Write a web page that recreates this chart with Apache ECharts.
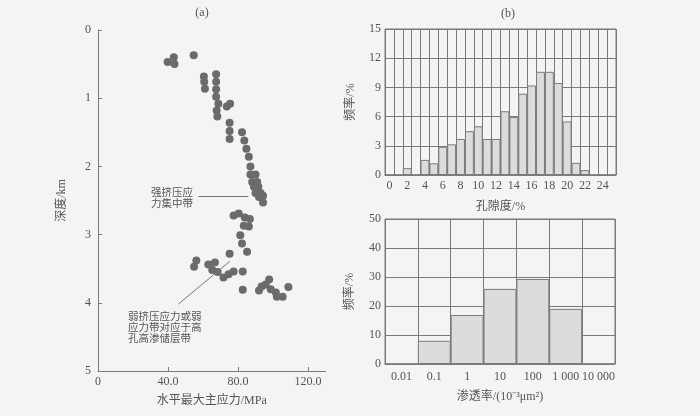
<!DOCTYPE html>
<html>
<head>
<meta charset="utf-8">
<title>地应力与孔渗分布</title>
<script src="https://cdn.jsdelivr.net/npm/echarts@6/dist/echarts.min.js"></script>
<style>
  html, body { margin: 0; padding: 0; background: #f4f4f4; }
  #main { width: 700px; height: 416px; }
</style>
</head>
<body>
<div id="main"></div>
<script>
// (a) 水平最大主应力(MPa) - 深度(km)
let stressDepth = [
  [39.8, 0.47], [43.3, 0.40], [43.7, 0.50], [54.7, 0.37],
  [60.5, 0.68], [60.7, 0.76], [61.1, 0.86],
  [67.5, 0.65], [67.5, 0.76], [67.5, 0.87], [67.5, 0.98], [68.8, 1.08], [67.8, 1.18], [68.2, 1.27],
  [73.6, 1.12], [75.5, 1.08],
  [75.2, 1.36], [75.2, 1.48], [75.2, 1.60],
  [82.3, 1.50], [83.6, 1.62], [84.8, 1.74], [86.2, 1.86], [87.1, 2.00], [87.1, 2.12], [90.0, 2.12],
  [88.1, 2.23], [91.0, 2.23], [89.1, 2.30], [91.6, 2.30], [90.0, 2.39], [92.9, 2.39], [92.0, 2.45],
  [94.3, 2.43], [94.3, 2.53],
  [77.5, 2.72], [80.4, 2.69], [83.9, 2.75], [86.8, 2.77], [83.3, 2.87], [86.2, 2.88], [81.3, 3.01],
  [82.3, 3.13], [85.2, 3.25], [75.2, 3.28],
  [56.2, 3.38], [54.9, 3.47], [63.0, 3.44], [66.8, 3.41], [65.3, 3.52], [68.4, 3.55], [71.7, 3.63],
  [74.6, 3.58], [77.5, 3.54], [82.7, 3.54], [82.7, 3.81],
  [92.0, 3.82], [93.5, 3.76], [95.8, 3.73], [97.8, 3.66], [98.7, 3.80], [101.6, 3.85], [102.2, 3.91],
  [105.5, 3.91], [108.8, 3.77]
];
let depthTicks = [0, 1, 2, 3, 4, 5];

// (b) 孔隙度分布
let porosityCats = ['0', '1', '2', '3', '4', '5', '6', '7', '8', '9', '10', '11', '12',
  '13', '14', '15', '16', '17', '18', '19', '20', '21', '22', '23', '24', '25'];
let porosityFreq = [0, 0, 0.7, 0, 1.55, 1.2, 2.9, 3.15, 3.7, 4.5, 5.0, 3.7, 3.7,
  6.55, 5.95, 8.35, 9.2, 10.6, 10.6, 9.45, 5.5, 1.25, 0.5, 0, 0, 0];

// 渗透率分布
let permCats = ['0.01', '0.1', '1', '10', '100', '1 000', '10 000'];
let permFreq = [0, 8.0, 16.9, 25.9, 29.3, 19.0, 0];

let myChart = echarts.init(document.getElementById('main'));

let font = '"Liberation Serif", "Noto Sans CJK SC", serif';
let txt = '#555';
let lineCol = '#7a7a7a';

let option = {
  backgroundColor: '#f4f4f4',
  textStyle: { fontFamily: font, color: txt },
  title: [
    { text: '(a)', left: 197, top: 2, textAlign: 'center',
      textStyle: { fontSize: 12, fontWeight: 'normal', color: txt, fontFamily: font } },
    { text: '(b)', left: 503, top: 3, textAlign: 'center',
      textStyle: { fontSize: 12, fontWeight: 'normal', color: txt, fontFamily: font } }
  ],
  grid: [
    { left: 98, top: 30, width: 227.5, height: 341 },
    { left: 385, top: 29, width: 231, height: 146, show: true, borderColor: lineCol, borderWidth: 1 },
    { left: 385, top: 219, width: 230, height: 145, show: true, borderColor: lineCol, borderWidth: 1 }
  ],
  xAxis: [
    {
      gridIndex: 0, type: 'value', position: 'bottom', min: 0, max: 130, interval: 40,
      name: '水平最大主应力/MPa', nameLocation: 'middle', nameGap: 24,
      nameTextStyle: { fontSize: 12, color: txt, fontFamily: font },
      axisLine: { onZero: false, lineStyle: { color: lineCol } },
      axisTick: { inside: true, length: 4, lineStyle: { color: lineCol }, customValues: [40, 80, 120] },
      axisLabel: {
        color: txt, fontSize: 12, margin: 5, fontFamily: font,
        customValues: [0, 40, 80, 120],
        formatter: function (v) { return v === 0 ? '0' : (v > 120 ? '' : v.toFixed(1)); }
      },
      splitLine: { show: false }
    },
    {
      gridIndex: 1, type: 'category', data: porosityCats,
      name: '孔隙度/%', nameLocation: 'middle', nameGap: 26,
      nameTextStyle: { fontSize: 12, color: txt, fontFamily: font },
      axisLine: { lineStyle: { color: lineCol } },
      axisTick: { show: false, interval: 0 },
      axisLabel: { color: txt, fontSize: 12, margin: 5, interval: 1, fontFamily: font },
      splitLine: { show: true, interval: 0, lineStyle: { color: lineCol } }
    },
    {
      gridIndex: 2, type: 'category', data: permCats,
      name: '渗透率/(10⁻³μm²)', nameLocation: 'middle', nameGap: 27,
      nameTextStyle: { fontSize: 12, color: txt, fontFamily: font },
      axisLine: { lineStyle: { color: lineCol } },
      axisTick: { show: false, interval: 0 },
      axisLabel: { color: txt, fontSize: 12, margin: 7, interval: 0, fontFamily: font },
      splitLine: { show: true, interval: 0, lineStyle: { color: lineCol } }
    }
  ],
  yAxis: [
    {
      gridIndex: 0, type: 'value', inverse: true, min: 0, max: 5, interval: 1,
      name: '深度/km', nameLocation: 'middle', nameGap: 30, nameRotate: 90,
      nameTextStyle: { fontSize: 12, color: txt, fontFamily: font },
      axisLine: { show: true, onZero: false, lineStyle: { color: lineCol } },
      axisTick: { show: true, inside: true, length: 4, lineStyle: { color: lineCol } },
      axisLabel: { color: txt, fontSize: 12, margin: 7, fontFamily: font,
        formatter: function (v) { return depthTicks.indexOf(v) >= 0 ? String(v) : ''; } },
      splitLine: { show: false }
    },
    {
      gridIndex: 1, type: 'value', min: 0, max: 15, interval: 3,
      name: '频率/%', nameLocation: 'middle', nameGap: 28,
      nameTextStyle: { fontSize: 12, color: txt, fontFamily: font },
      axisLine: { show: true, lineStyle: { color: lineCol } },
      axisTick: { show: false },
      axisLabel: { color: txt, fontSize: 12, margin: 4, fontFamily: font },
      splitLine: { show: true, lineStyle: { color: lineCol } }
    },
    {
      gridIndex: 2, type: 'value', min: 0, max: 50, interval: 10,
      name: '频率/%', nameLocation: 'middle', nameGap: 29,
      nameTextStyle: { fontSize: 12, color: txt, fontFamily: font },
      axisLine: { show: true, lineStyle: { color: lineCol } },
      axisTick: { show: false },
      axisLabel: { color: txt, fontSize: 12, margin: 4, fontFamily: font },
      splitLine: { show: true, lineStyle: { color: lineCol } }
    }
  ],
  series: [
    {
      name: '应力', type: 'scatter', xAxisIndex: 0, yAxisIndex: 0,
      data: stressDepth, symbolSize: 8,
      itemStyle: { color: '#6b6b6b', opacity: 1 },
      // 标注引线
      markLine: {
        silent: true, symbol: 'none', label: { show: false },
        lineStyle: { color: '#777', width: 1, type: 'solid' },
        data: [
          [{ coord: [57.3, 2.44] }, { coord: [85.9, 2.44] }],
          [{ coord: [45.9, 4.02] }, { coord: [75.4, 3.39] }]
        ]
      }
    },
    {
      name: '孔隙度', type: 'bar', xAxisIndex: 1, yAxisIndex: 1,
      data: porosityFreq, barCategoryGap: 0,
      itemStyle: { color: '#dcdcdc', borderColor: '#7a7a7a', borderWidth: 1 }
    },
    {
      name: '渗透率', type: 'bar', xAxisIndex: 2, yAxisIndex: 2,
      data: permFreq, barCategoryGap: 0,
      itemStyle: { color: '#dcdcdc', borderColor: '#7a7a7a', borderWidth: 1 }
    }
  ],
  graphic: [
    {
      type: 'text', right: 700 - 193, top: 186,
      style: { text: '强挤压应\n力集中带', fill: txt, font: '10.5px "Noto Sans CJK SC"', lineHeight: 11.5, textAlign: 'right' }
    },
    {
      type: 'text', left: 128, top: 311,
      style: { text: '弱挤压应力或弱\n应力带对应于高\n孔高渗储层带', fill: txt, font: '10.5px "Noto Sans CJK SC"', lineHeight: 11 }
    }
  ]
};

myChart.setOption(option);
window.addEventListener('resize', function () {
  myChart.resize();
});
</script>
</body>
</html>
